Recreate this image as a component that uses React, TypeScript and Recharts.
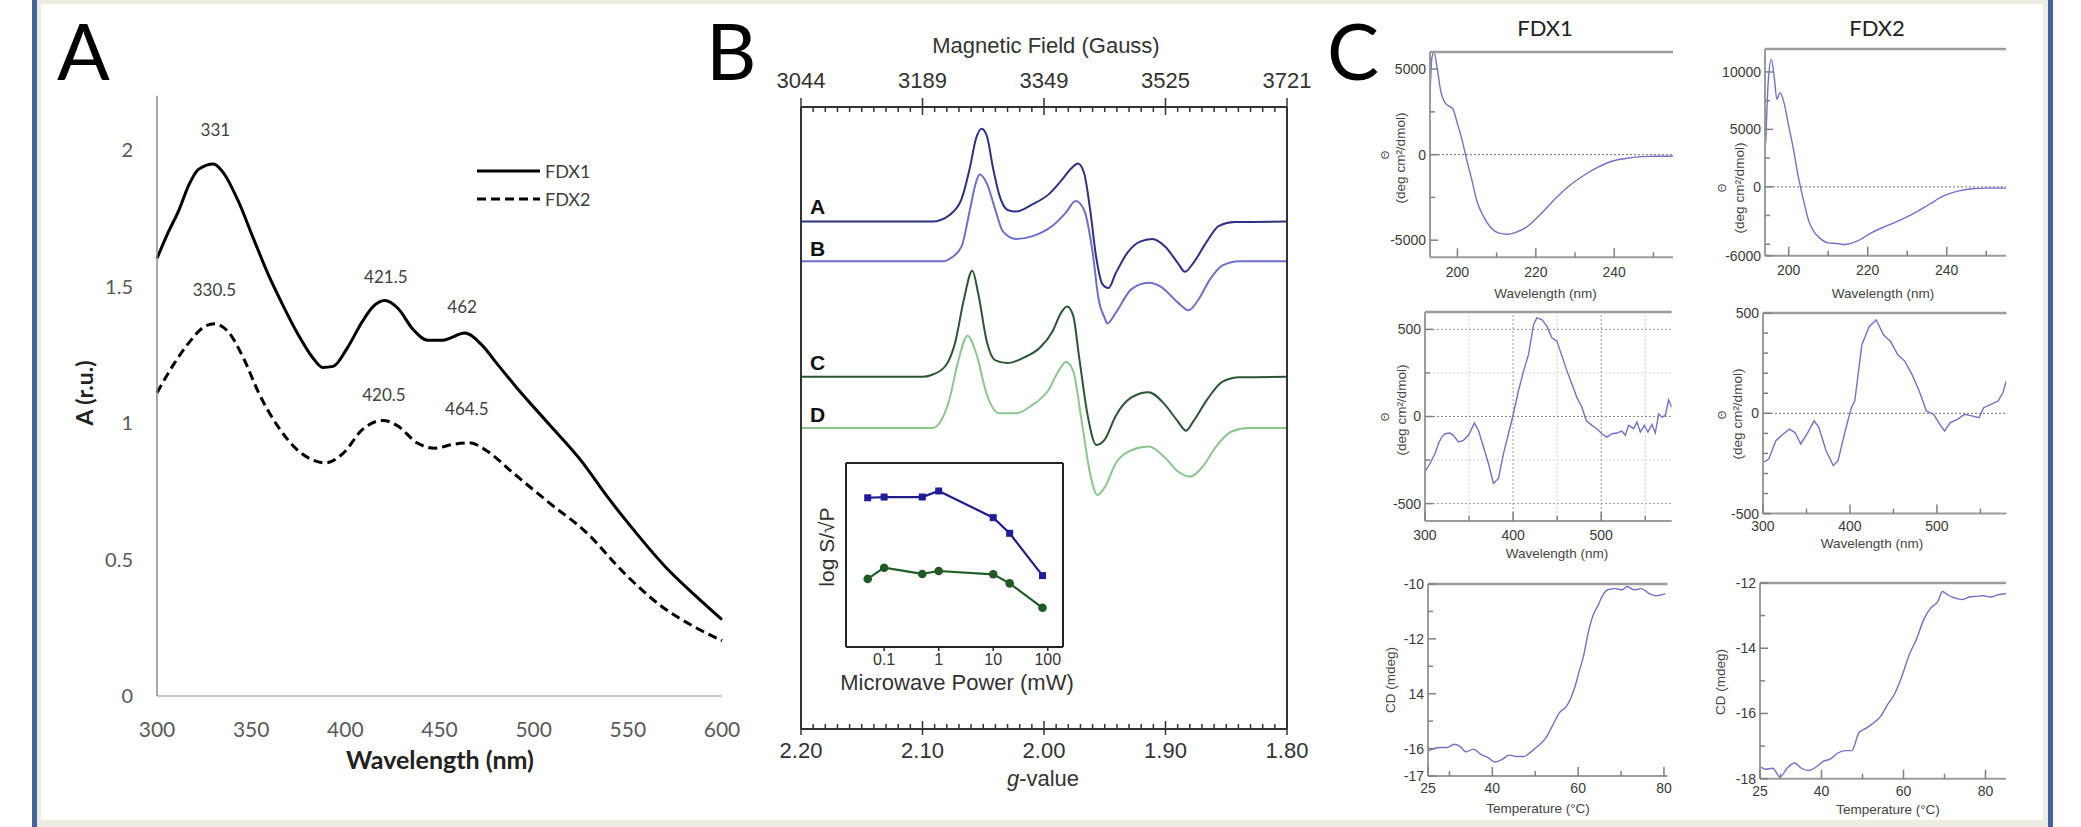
import React from "react";
import { LineChart, Line, XAxis, YAxis, ReferenceLine, ReferenceDot, Legend } from "recharts";

// ---------- Panel A: UV-vis absorbance ----------
const absWl1 = [300, 306, 311.6, 317, 322, 330, 335, 343, 351, 359, 367, 375, 383, 388, 393.5, 401, 409, 414.6, 421, 428, 436, 443.6, 451.6, 463.5, 472.7, 480.6, 491, 507, 525.5, 538.7, 552, 570, 586, 600];
const absFdx1 = [1.604, 1.7, 1.78, 1.874, 1.93, 1.95, 1.92, 1.816, 1.68, 1.546, 1.43, 1.324, 1.237, 1.204, 1.208, 1.275, 1.372, 1.426, 1.449, 1.42, 1.343, 1.304, 1.304, 1.33, 1.285, 1.217, 1.13, 1.005, 0.86, 0.734, 0.618, 0.473, 0.367, 0.28];
const absWl2 = [300, 309, 317, 325, 330.6, 338, 346, 354, 364.4, 375, 383, 389.5, 398.8, 409, 420, 428, 438, 447.6, 456.8, 466, 475, 488.5, 507, 528, 549, 567.8, 586, 600];
const absFdx2 = [1.111, 1.217, 1.295, 1.353, 1.364, 1.333, 1.237, 1.111, 0.986, 0.899, 0.864, 0.854, 0.889, 0.976, 1.01, 0.989, 0.928, 0.908, 0.922, 0.928, 0.899, 0.821, 0.715, 0.599, 0.444, 0.329, 0.251, 0.203];
const absXTicks = [300, 350, 400, 450, 500, 550, 600];
const absYTicks = [0, 0.5, 1, 1.5, 2];
const peakText = ["331", "330.5", "421.5", "462", "420.5", "464.5"];
const peakX = [331, 330.5, 421.5, 462, 420.5, 464.5];
const peakY = [2.074, 1.488, 1.536, 1.426, 1.105, 1.052];
const legendNames = ["FDX1", "FDX2"];
const legendDash = [undefined, "9 5"];

// ---------- Panel B: EPR ----------
const eprGA = [2.2, 2.092, 2.085, 2.078, 2.068, 2.061, 2.056, 2.0513, 2.047, 2.042, 2.037, 2.03, 2.023, 2.01, 1.996, 1.986, 1.977, 1.972, 1.967, 1.962, 1.957, 1.952, 1.947, 1.941, 1.931, 1.921, 1.911, 1.9, 1.89, 1.884, 1.877, 1.866, 1.856, 1.843, 1.8];
const eprA = [96.1, 96.1, 96.4, 97.3, 100.3, 106.3, 111.8, 113.7, 112.3, 106.3, 101.3, 98.3, 98.0, 99.3, 101.3, 103.8, 106.3, 107.1, 105.3, 98.3, 89.3, 84.3, 83.5, 86.3, 90.3, 92.3, 92.8, 91.3, 88.3, 86.6, 88.3, 92.3, 95.3, 96.0, 96.1];
const eprGB = [2.2, 2.082, 2.076, 2.068, 2.061, 2.056, 2.053, 2.047, 2.04, 2.034, 2.023, 2.01, 1.993, 1.982, 1.974, 1.967, 1.96, 1.955, 1.95, 1.948, 1.941, 1.928, 1.914, 1.904, 1.89, 1.881, 1.873, 1.863, 1.853, 1.839, 1.8];
const eprB = [88.6, 88.6, 89.3, 91.3, 98.3, 103.5, 105.0, 103.3, 98.3, 94.3, 92.8, 93.3, 95.3, 97.8, 100.0, 98.3, 90.3, 81.3, 77.8, 76.8, 78.8, 83.3, 84.5, 83.8, 80.8, 79.3, 81.3, 85.3, 87.8, 88.6, 88.6];
const eprGC = [2.2, 2.1, 2.092, 2.081, 2.073, 2.066, 2.059, 2.054, 2.047, 2.04, 2.03, 2.017, 2.003, 1.993, 1.986, 1.981, 1.976, 1.971, 1.964, 1.957, 1.95, 1.941, 1.928, 1.914, 1.9, 1.89, 1.883, 1.877, 1.866, 1.853, 1.839, 1.8];
const eprC = [66.7, 66.7, 67.1, 68.8, 73.3, 81.3, 86.8, 82.3, 73.3, 69.8, 69.3, 70.3, 72.3, 75.3, 78.8, 80.0, 78.3, 70.3, 59.3, 53.8, 54.8, 59.3, 62.8, 63.8, 61.3, 58.3, 56.5, 58.3, 62.3, 65.8, 66.6, 66.7];
const eprGD = [2.2, 2.092, 2.085, 2.078, 2.071, 2.063, 2.056, 2.047, 2.037, 2.023, 2.01, 1.996, 1.988, 1.982, 1.976, 1.969, 1.962, 1.956, 1.95, 1.941, 1.928, 1.914, 1.9, 1.89, 1.88, 1.869, 1.859, 1.846, 1.832, 1.8];
const eprD = [57.0, 57.0, 58.3, 62.3, 69.3, 74.5, 71.3, 63.3, 59.8, 59.8, 61.3, 64.3, 67.8, 69.5, 67.8, 58.3, 48.3, 44.3, 45.8, 50.3, 52.8, 53.5, 51.3, 48.8, 47.8, 49.8, 53.3, 56.3, 57.0, 57.0];
const gMajor = [2.2, 2.1, 2.0, 1.9, 1.8];
const gLabels = ["2.20", "2.10", "2.00", "1.90", "1.80"];
const fieldLabels = ["3044", "3189", "3349", "3525", "3721"];
const gTicks = Array.from({ length: 41 }, (_, i) => +(2.2 - i * 0.01).toFixed(2));

// inset: power saturation
const powerMw = [0.05, 0.1, 0.5, 1, 10, 20, 80];
const satFdx1 = [8.11, 8.15, 8.15, 8.48, 7.03, 6.18, 3.88];
const satFdx2 = [3.7, 4.31, 3.97, 4.13, 3.95, 3.46, 2.13];
const powerTicks = [0.1, 1, 10, 100];
const powerLabels = ["0.1", "1", "10", "100"];

// ---------- Panel C: CD ----------
const cdFarWl1 = [193, 193.5, 194, 194.8, 195.7, 197, 198.8, 200, 201.2, 202.4, 203.7, 204.9, 206.7, 208.5, 210.4, 212.8, 215.2, 217.7, 220.1, 222.6, 225, 228.7, 232.3, 236, 239.6, 243.3, 247, 250.6, 255];
const cdFar1 = [3456, 5690, 5990, 5117, 3755, 2977, 2685, 1809, 837, -331, -1498, -2665, -3638, -4261, -4572, -4650, -4514, -4222, -3735, -3152, -2568, -1790, -1206, -720, -370, -214, -117, -97, -97];
const cdFarWl2 = [194.2, 194.8, 195.6, 196.4, 197, 197.8, 198.8, 200, 201.2, 202.4, 203.9, 205.1, 206.3, 208.1, 210, 212.4, 214.2, 217.3, 220.9, 224.6, 228.2, 231.9, 235.5, 239.1, 242.8, 246.4, 250.1, 255];
const cdFar2 = [3837, 9070, 11105, 9360, 7616, 8198, 7326, 5291, 3256, 930, -1395, -2994, -3866, -4535, -4884, -4942, -5029, -4738, -4012, -3430, -2907, -2267, -1541, -814, -378, -174, -116, -116];
const cdVisWl1 = [300, 305.7, 311.4, 315.2, 319, 322.8, 328.4, 332.2, 337.9, 343.6, 349.3, 356.1, 360.7, 366.4, 372, 377.7, 383.4, 389.1, 394.7, 399.6, 406.1, 411.8, 417.5, 423.2, 427, 432.6, 438.3, 444, 449.7, 455.4, 461.1, 466.7, 472.4, 478.1, 483, 489.5, 495.1, 500.8, 506.5, 512.2, 517.8, 523.5, 527.3, 531.1, 536.8, 540.6, 544.4, 549, 553.1, 557.6, 561.4, 565.2, 569, 572.8, 576.5, 580];
const cdVis1 = [-317, -270, -213, -156, -118, -99, -95, -108, -146, -137, -108, -38, -80, -175, -270, -384, -356, -213, -99, 0, 148, 259, 357, 527, 567, 557, 519, 452, 433, 348, 262, 186, 110, 53, -23, -51, -70, -99, -118, -99, -95, -84, -108, -51, -70, -32, -89, -51, -89, -46, -95, 15, -4, 6, 95, 53];
const cdVisWl2 = [300, 306.6, 314.8, 323, 330.2, 336.8, 343.4, 350.5, 358.8, 364.3, 372.5, 380.8, 386.3, 394.5, 401.6, 405.5, 413.7, 422, 430.2, 438.5, 446.7, 455, 463.2, 471.4, 479.7, 487.9, 496.2, 504.4, 508.8, 515.4, 523.6, 531.9, 540.1, 548.4, 553.8, 562.1, 570.3, 575.8, 579.7];
const cdVis2 = [-245, -228, -137, -104, -79, -96, -153, -104, -38, -71, -187, -261, -236, -88, 28, 61, 342, 432, 465, 391, 358, 292, 259, 193, 110, 11, -5, -63, -88, -46, -30, -5, -13, -22, 28, 45, 61, 102, 160];
const meltT1 = [25, 26.1, 27.8, 29.5, 31.1, 32.3, 33.9, 35.6, 37.3, 39, 40.6, 42.3, 44, 45.7, 47.3, 49, 50.7, 52.4, 54, 55.7, 57.4, 59.1, 60.2, 61.3, 62.4, 63.5, 64.7, 65.8, 66.9, 68.6, 70.3, 71.4, 73, 74.7, 76.4, 78.1, 80.3];
const melt1 = [-16.08, -16.02, -15.96, -15.96, -15.84, -15.9, -16.12, -16.02, -16.21, -16.33, -16.49, -16.39, -16.24, -16.29, -16.29, -16.12, -15.9, -15.63, -15.17, -14.68, -14.43, -13.82, -13.21, -12.59, -11.74, -11.13, -10.76, -10.39, -10.21, -10.17, -10.21, -10.09, -10.21, -10.17, -10.33, -10.43, -10.35];
const meltT2 = [25, 26.4, 28.1, 29.9, 31.6, 33.4, 35.1, 36.9, 38.6, 40.4, 42.1, 43.9, 45.6, 47.4, 49.1, 50.9, 52.6, 54.4, 56.1, 57.9, 59.6, 61.4, 63.1, 64.9, 66.6, 68.4, 69.5, 70.7, 72.5, 74.2, 76, 77.7, 79.5, 81.2, 83, 85];
const melt2 = [-17.63, -17.71, -17.68, -17.95, -17.68, -17.52, -17.68, -17.75, -17.65, -17.47, -17.4, -17.22, -17.14, -17.14, -16.6, -16.45, -16.3, -16.09, -15.73, -15.38, -14.86, -14.2, -13.74, -13.13, -12.77, -12.56, -12.26, -12.36, -12.46, -12.51, -12.43, -12.41, -12.39, -12.43, -12.36, -12.33];

const farXTicks = [200, 210, 220, 230, 240, 250];
const farXLabels = ["200", "", "220", "", "240", ""];
const visXTicks = [300, 350, 400, 450, 500, 550];
const visXLabels = ["300", "", "400", "", "500", ""];
const melt1XTicks = [25, 30, 40, 50, 60, 70, 80];
const melt2XTicks = [25, 30, 40, 50, 60, 70, 80];
const meltXLabels = ["25", "", "40", "", "60", "", "80"];
const c1YTicks = [-5000, -2500, 0, 2500, 5000];
const c1YLabels = ["-5000", "", "0", "", "5000"];
const c2YTicks = [-6000, -5000, -2500, 0, 2500, 5000, 7500, 10000];
const c2YLabels = ["-6000", "", "", "0", "", "5000", "", "10000"];
const c3YTicks = [-500, -250, 0, 250, 500];
const c3YLabels = ["-500", "", "0", "", "500"];
const c4YTicks = [-500, -400, -300, -200, -100, 0, 100, 200, 300, 400, 500];
const c4YLabels = ["-500", "", "", "", "", "0", "", "", "", "", "500"];
const c5YTicks = [-17, -16, -15, -14, -13, -12, -11, -10];
const c5YLabels = ["-17", "-16", "", "14", "", "-12", "", "-10"];
const c6YTicks = [-18, -17, -16, -15, -14, -13, -12];
const c6YLabels = ["-18", "", "-16", "", "-14", "", "-12"];

const zip = (xs: number[], ys: number[]) => xs.map((x, i) => ({ x, y: ys[i] }));

const LATO = "Lato, 'Open Sans', sans-serif";
const ARIAL = "'Liberation Sans', Arial, sans-serif";
const CD_COLOR = "#7171c6";
const AX = "#9c9c9c";

// ---------- Panel A ----------
function PanelA() {
  return (
    <div style={{ position: "absolute", left: 0, top: 40 }}>
      <LineChart width={770} height={780} margin={{ top: 55.7, right: 48, bottom: 64, left: 0 }}>
        <XAxis
          type="number"
          dataKey="x"
          domain={[300, 600]}
          ticks={absXTicks}
          interval={0}
          height={60}
          axisLine={{ stroke: "#b5b5b5", strokeWidth: 1.5 }}
          tickLine={false}
          tickMargin={20}
          tick={{ fill: "#595959", fontSize: 21, fontFamily: LATO }}
        />
        <YAxis
          type="number"
          domain={[0, 2.2]}
          ticks={absYTicks}
          interval={0}
          width={157}
          allowDataOverflow
          axisLine={{ stroke: "#8a8a8a", strokeWidth: 1.5 }}
          tickLine={false}
          tickMargin={18}
          tick={{ fill: "#595959", fontSize: 20, fontFamily: LATO }}
        />
        <Line data={zip(absWl1, absFdx1)} dataKey="y" name="FDX1" type="monotone" stroke="#000" strokeWidth={3} dot={false} isAnimationActive={false} />
        <Line data={zip(absWl2, absFdx2)} dataKey="y" name="FDX2" type="monotone" stroke="#000" strokeWidth={3} strokeDasharray="9 5" dot={false} isAnimationActive={false} />
        {peakText.map((t, i) => (
          <ReferenceDot
            key={t}
            x={peakX[i]}
            y={peakY[i]}
            r={0}
            fill="none"
            stroke="none"
            label={{ value: t, position: "center", fill: "#404040", fontSize: 17, fontFamily: LATO }}
          />
        ))}
        <Legend
          layout="vertical"
          align="center"
          verticalAlign="middle"
          wrapperStyle={{ left: 477, top: 115, width: 150, height: 60 }}
          content={() => (
            <svg width={150} height={60}>
              {legendNames.map((n, i) => (
                <g key={n}>
                  <line x1={0} x2={63} y1={16 + 28 * i} y2={16 + 28 * i} stroke="#000" strokeWidth={3} strokeDasharray={legendDash[i]} />
                  <text x={68} y={16 + 28 * i} dominantBaseline="central" fontSize={18} fill="#404040" fontFamily={LATO}>
                    {n}
                  </text>
                </g>
              ))}
            </svg>
          )}
        />
      </LineChart>
    </div>
  );
}

// ---------- Panel B ----------
const isMajorG = (v: number) => Math.abs(v * 10 - Math.round(v * 10)) < 1e-6;
const majorIndex = (v: number) => gMajor.findIndex((m) => Math.abs(m - v) < 1e-6);

function GBottomTick(props: any) {
  const { x, y, payload } = props;
  const major = isMajorG(payload.value);
  return (
    <g>
      <line x1={x} x2={x} y1={major ? y - 8 : y - 5} y2={major ? y + 6 : y} stroke="#333" strokeWidth={1.5} />
      {major && (
        <text x={x} y={y + 21} textAnchor="middle" dominantBaseline="central" fontSize={22} fill="#333" fontFamily={ARIAL}>
          {gLabels[majorIndex(payload.value)]}
        </text>
      )}
    </g>
  );
}

function GTopTick(props: any) {
  const { x, y, payload } = props;
  const major = isMajorG(payload.value);
  return (
    <g>
      <line x1={x} x2={x} y1={major ? y - 9 : y} y2={major ? y + 8 : y + 5} stroke="#333" strokeWidth={1.5} />
      {major && (
        <text x={x} y={y - 27} textAnchor="middle" dominantBaseline="central" fontSize={22} fill="#333" fontFamily={ARIAL}>
          {fieldLabels[majorIndex(payload.value)]}
        </text>
      )}
    </g>
  );
}

const eprSeries = [
  { id: "A", g: eprGA, v: eprA, color: "#2d3183" },
  { id: "B", g: eprGB, v: eprB, color: "#6d70c4" },
  { id: "C", g: eprGC, v: eprC, color: "#2b5632" },
  { id: "D", g: eprGD, v: eprD, color: "#8cc590" },
];

// axes get 1px of size: zero-sized axes are not drawn
function PanelB() {
  return (
    <div style={{ position: "absolute", left: 760, top: 20 }}>
      <LineChart width={570} height={790} margin={{ top: 86, right: 42, bottom: 80, left: 40 }}>
        <XAxis
          xAxisId="g"
          type="number"
          dataKey="x"
          domain={[1.8, 2.2]}
          reversed
          ticks={gTicks}
          interval={0}
          height={1}
          tickSize={0}
          tickMargin={0}
          allowDataOverflow
          axisLine={{ stroke: "#333", strokeWidth: 2 }}
          tickLine={false}
          tick={(p: any) => <GBottomTick {...p} />}
        />
        <XAxis
          xAxisId="f"
          orientation="top"
          type="number"
          dataKey="x"
          domain={[1.8, 2.2]}
          reversed
          ticks={gTicks}
          interval={0}
          height={1}
          tickSize={0}
          tickMargin={0}
          allowDataOverflow
          axisLine={{ stroke: "#333", strokeWidth: 2 }}
          tickLine={false}
          tick={(p: any) => <GTopTick {...p} />}
        />
        <YAxis yAxisId="l" type="number" domain={[0, 117.8]} width={1} tick={false} tickLine={false} allowDataOverflow axisLine={{ stroke: "#333", strokeWidth: 2 }} />
        <YAxis yAxisId="r" orientation="right" type="number" domain={[0, 117.8]} width={1} tick={false} tickLine={false} allowDataOverflow axisLine={{ stroke: "#333", strokeWidth: 2 }} />
        {eprSeries.map((s) => (
          <Line
            key={s.id}
            xAxisId="g"
            yAxisId="l"
            data={zip(s.g, s.v)}
            dataKey="y"
            type="monotone"
            stroke={s.color}
            strokeWidth={2}
            dot={false}
            isAnimationActive={false}
          />
        ))}
      </LineChart>
    </div>
  );
}

function InsetTick(props: any) {
  const { x, y, payload } = props;
  const i = powerTicks.indexOf(payload.value);
  return (
    <g>
      <line x1={x} x2={x} y1={y} y2={y + 4} stroke="#222" strokeWidth={1.5} />
      <text x={x} y={y + 12} textAnchor="middle" dominantBaseline="central" fontSize={16} fill="#333" fontFamily={ARIAL}>
        {powerLabels[i]}
      </text>
    </g>
  );
}

function Inset() {
  return (
    <div style={{ position: "absolute", left: 800, top: 440 }}>
      <LineChart width={290} height={250} margin={{ top: 22, right: 26, bottom: 42, left: 45 }}>
        <XAxis
          xAxisId="b"
          type="number"
          scale="log"
          dataKey="x"
          domain={[0.02, 190]}
          ticks={powerTicks}
          interval={0}
          height={1}
          tickSize={0}
          tickMargin={0}
          allowDataOverflow
          axisLine={{ stroke: "#222", strokeWidth: 2 }}
          tickLine={false}
          tick={(p: any) => <InsetTick {...p} />}
        />
        <XAxis xAxisId="t" orientation="top" type="number" scale="log" dataKey="x" domain={[0.02, 190]} height={1} tick={false} tickLine={false} allowDataOverflow axisLine={{ stroke: "#222", strokeWidth: 2 }} />
        <YAxis yAxisId="l" type="number" domain={[0, 10]} width={1} tick={false} tickLine={false} axisLine={{ stroke: "#222", strokeWidth: 2 }} />
        <YAxis yAxisId="r" orientation="right" type="number" domain={[0, 10]} width={1} tick={false} tickLine={false} axisLine={{ stroke: "#222", strokeWidth: 2 }} />
        <Line
          xAxisId="b"
          yAxisId="l"
          data={zip(powerMw, satFdx1)}
          dataKey="y"
          type="linear"
          stroke="#1d1d8c"
          strokeWidth={2.2}
          isAnimationActive={false}
          dot={(p: any) => <rect key={`s${p.index}`} x={p.cx - 3.5} y={p.cy - 3.5} width={7} height={7} fill="#1d1d9a" />}
        />
        <Line
          xAxisId="b"
          yAxisId="l"
          data={zip(powerMw, satFdx2)}
          dataKey="y"
          type="linear"
          stroke="#235b27"
          strokeWidth={2.2}
          isAnimationActive={false}
          dot={(p: any) => <circle key={`c${p.index}`} cx={p.cx} cy={p.cy} r={4.3} fill="#1f5a24" />}
        />
      </LineChart>
    </div>
  );
}

// ---------- Panel C small plots ----------
type SmallProps = {
  left: number;
  top: number;
  right: number;
  bottom: number;
  xDomain: [number, number];
  yDomain: [number, number];
  xTicks: number[];
  xLabels: string[];
  yTicks: number[];
  yLabels: string[];
  xLabelGap: number;
  xs: number[];
  ys: number[];
  curve: "monotone" | "linear";
  zeroLine?: boolean;
  grid?: boolean;
};

function SmallPlot(p: SmallProps) {
  const ml = 60, mr = 10, mt = 10, mb = 30;
  const w = p.right - p.left;
  const h = p.bottom - p.top;
  const xTick = (t: any) => {
    const i = p.xTicks.indexOf(t.payload.value);
    const lab = p.xLabels[i];
    const len = lab ? 9 : 5;
    return (
      <g>
        <line x1={t.x} x2={t.x} y1={t.y} y2={t.y - len} stroke="#808080" strokeWidth={1.5} />
        {lab && (
          <text x={t.x} y={t.y + p.xLabelGap} textAnchor="middle" dominantBaseline="central" fontSize={14} fill="#3a3a3a" fontFamily={ARIAL}>
            {lab}
          </text>
        )}
      </g>
    );
  };
  const yTick = (t: any) => {
    const i = p.yTicks.indexOf(t.payload.value);
    const lab = p.yLabels[i];
    const len = lab ? 8 : 5;
    return (
      <g>
        <line x1={t.x} x2={t.x + len} y1={t.y} y2={t.y} stroke="#808080" strokeWidth={1.5} />
        {lab && (
          <text x={t.x - 4} y={t.y} textAnchor="end" dominantBaseline="central" fontSize={14} fill="#3a3a3a" fontFamily={ARIAL}>
            {lab}
          </text>
        )}
      </g>
    );
  };
  return (
    <div style={{ position: "absolute", left: p.left - ml, top: p.top - mt }}>
      <LineChart width={w + ml + mr} height={h + mt + mb} margin={{ left: ml - 1, right: mr, top: mt - 1, bottom: mb - 1 }}>
        <XAxis
          xAxisId="b"
          type="number"
          dataKey="x"
          domain={p.xDomain}
          ticks={p.xTicks}
          interval={0}
          height={1}
          tickSize={0}
          tickMargin={0}
          allowDataOverflow
          axisLine={{ stroke: AX, strokeWidth: 2 }}
          tickLine={false}
          tick={xTick}
        />
        <XAxis xAxisId="t" orientation="top" type="number" dataKey="x" domain={p.xDomain} height={1} tick={false} tickLine={false} allowDataOverflow axisLine={{ stroke: AX, strokeWidth: 2.5 }} />
        <YAxis
          yAxisId="l"
          type="number"
          domain={p.yDomain}
          ticks={p.yTicks}
          interval={0}
          width={1}
          tickSize={0}
          tickMargin={0}
          allowDataOverflow
          axisLine={{ stroke: AX, strokeWidth: 2 }}
          tickLine={false}
          tick={yTick}
        />
        {p.grid &&
          [250, -250].map((v) => <ReferenceLine key={`h${v}`} xAxisId="b" yAxisId="l" y={v} stroke="#cfcfcf" strokeDasharray="2 2" />)}
        {p.grid &&
          [500, -500].map((v) => <ReferenceLine key={`H${v}`} xAxisId="b" yAxisId="l" y={v} stroke="#9a9a9a" strokeDasharray="2 2" />)}
        {p.grid &&
          [350, 450, 550].map((v) => <ReferenceLine key={`v${v}`} xAxisId="b" yAxisId="l" x={v} stroke="#cfcfcf" strokeDasharray="2 2" />)}
        {p.grid &&
          [400, 500].map((v) => <ReferenceLine key={`V${v}`} xAxisId="b" yAxisId="l" x={v} stroke="#9a9a9a" strokeDasharray="2 2" />)}
        {p.zeroLine && <ReferenceLine xAxisId="b" yAxisId="l" y={0} stroke="#8a8a8a" strokeDasharray="2 2" strokeWidth={1.2} />}
        <Line xAxisId="b" yAxisId="l" data={zip(p.xs, p.ys)} dataKey="y" type={p.curve} stroke={CD_COLOR} strokeWidth={1.4} dot={false} isAnimationActive={false} />
      </LineChart>
    </div>
  );
}

// ---------- Free text ----------
function Overlay() {
  const rot = (x: number, y: number) => `rotate(-90 ${x} ${y})`;
  const cdYLabel = (x0: number, y0: number, x1: number, y1: number) => (
    <g>
      <text x={x0} y={y0} transform={rot(x0, y0)} textAnchor="middle" dominantBaseline="central" fontSize={11} fill="#444" fontFamily={ARIAL}>Θ</text>
      <text x={x1} y={y1} transform={rot(x1, y1)} textAnchor="middle" dominantBaseline="central" fontSize={13.5} fill="#444" fontFamily={ARIAL}>(deg cm²/dmol)</text>
    </g>
  );
  const small = (x: number, y: number, t: string) => (
    <text x={x} y={y} textAnchor="middle" dominantBaseline="central" fontSize={13.5} fill="#444" fontFamily={ARIAL}>{t}</text>
  );
  return (
    <svg width={2081} height={827} style={{ position: "absolute", left: 0, top: 0, pointerEvents: "none" }}>
      <text x={57} y={80} fontSize={78} fontFamily={LATO} fill="#000">A</text>
      <text x={706} y={80} fontSize={78} fontFamily={LATO} fill="#000">B</text>
      <text x={1327} y={80} fontSize={78} fontFamily={LATO} fill="#000">C</text>

      <text x={84} y={393} transform={rot(84, 393)} textAnchor="middle" dominantBaseline="central" fontSize={23} fontWeight="bold" fontFamily={LATO} fill="#222">A (r.u.)</text>
      <text x={440} y={759} textAnchor="middle" dominantBaseline="central" fontSize={25} fontWeight="bold" fontFamily={LATO} fill="#222">Wavelength (nm)</text>

      <text x={1046} y={45} textAnchor="middle" dominantBaseline="central" fontSize={22} fontFamily={ARIAL} fill="#333">Magnetic Field (Gauss)</text>
      <text x={1043} y={778} textAnchor="middle" dominantBaseline="central" fontSize={22} fontFamily={ARIAL} fill="#333">
        <tspan fontStyle="italic">g</tspan>-value
      </text>
      {["A", "B", "C", "D"].map((t, i) => (
        <text key={t} x={810} y={[206, 248, 362, 414][i]} dominantBaseline="central" fontSize={21} fontWeight="bold" fontFamily={ARIAL} fill="#111">{t}</text>
      ))}
      <text x={826} y={547} transform={rot(826, 547)} textAnchor="middle" dominantBaseline="central" fontSize={21} fontFamily={ARIAL} fill="#333">log S/√P</text>
      <text x={957} y={682} textAnchor="middle" dominantBaseline="central" fontSize={22} fontFamily={ARIAL} fill="#333">Microwave Power (mW)</text>

      <text x={1545} y={27} textAnchor="middle" dominantBaseline="central" fontSize={22} fontFamily={LATO} fill="#222">FDX1</text>
      <text x={1877} y={27} textAnchor="middle" dominantBaseline="central" fontSize={22} fontFamily={LATO} fill="#222">FDX2</text>
      {small(1545.5, 293, "Wavelength (nm)")}
      {small(1883, 293, "Wavelength (nm)")}
      {small(1557, 553, "Wavelength (nm)")}
      {small(1872, 543, "Wavelength (nm)")}
      {small(1538, 808, "Temperature (°C)")}
      {small(1888, 809, "Temperature (°C)")}
      {cdYLabel(1385, 155, 1400, 158)}
      {cdYLabel(1722, 188, 1739.5, 188)}
      {cdYLabel(1385, 417, 1401.5, 410)}
      {cdYLabel(1722, 415, 1737, 414)}
      <text x={1390} y={680} transform={rot(1390, 680)} textAnchor="middle" dominantBaseline="central" fontSize={13.5} fill="#444" fontFamily={ARIAL}>CD (mdeg)</text>
      <text x={1720} y={682} transform={rot(1720, 682)} textAnchor="middle" dominantBaseline="central" fontSize={13.5} fill="#444" fontFamily={ARIAL}>CD (mdeg)</text>
    </svg>
  );
}

function Frame() {
  const beige = "#eeece1";
  const blue = "#42669a";
  const box = (l: number, t: number, w: number, h: number, c: string) => (
    <div style={{ position: "absolute", left: l, top: t, width: w, height: h, background: c }} />
  );
  return (
    <>
      {box(0, 0, 2081, 827, "#fff")}
      {box(37, 0, 2011, 3.5, beige)}
      {box(37, 820, 2011, 7, beige)}
      {box(37, 0, 4, 827, beige)}
      {box(2043, 0, 5, 827, beige)}
      {box(32, 0, 5, 827, blue)}
      {box(2048, 0, 5, 827, blue)}
    </>
  );
}

export default function App() {
  return (
    <div style={{ position: "absolute", left: 0, top: 0, width: 2081, height: 827, overflow: "hidden", fontFamily: ARIAL }}>
      <Frame />
      <PanelA />
      <PanelB />
      <Inset />
      <SmallPlot left={1430} top={51.7} right={1673} bottom={257} xDomain={[193, 255]} yDomain={[-6000, 6000]} xTicks={farXTicks} xLabels={farXLabels} yTicks={c1YTicks} yLabels={c1YLabels} xLabelGap={15} xs={cdFarWl1} ys={cdFar1} curve="monotone" zeroLine />
      <SmallPlot left={1765} top={49.3} right={2006} bottom={256} xDomain={[194, 255]} yDomain={[-6000, 12000]} xTicks={farXTicks} xLabels={farXLabels} yTicks={c2YTicks} yLabels={c2YLabels} xLabelGap={14} xs={cdFarWl2} ys={cdFar2} curve="monotone" zeroLine />
      <SmallPlot left={1425} top={311.5} right={1671.7} bottom={520.5} xDomain={[300, 580]} yDomain={[-600, 600]} xTicks={visXTicks} xLabels={visXLabels} yTicks={c3YTicks} yLabels={c3YLabels} xLabelGap={14.5} xs={cdVisWl1} ys={cdVis1} curve="linear" grid zeroLine />
      <SmallPlot left={1762.5} top={312.7} right={2006} bottom={513.3} xDomain={[300, 580]} yDomain={[-500, 500]} xTicks={visXTicks} xLabels={visXLabels} yTicks={c4YTicks} yLabels={c4YLabels} xLabelGap={12.7} xs={cdVisWl2} ys={cdVis2} curve="linear" zeroLine />
      <SmallPlot left={1428.2} top={584} right={1667.6} bottom={776} xDomain={[25, 80.8]} yDomain={[-17, -10]} xTicks={melt1XTicks} xLabels={meltXLabels} yTicks={c5YTicks} yLabels={c5YLabels} xLabelGap={12} xs={meltT1} ys={melt1} curve="monotone" />
      <SmallPlot left={1760} top={583.3} right={2006} bottom={779} xDomain={[25, 85]} yDomain={[-18, -12]} xTicks={melt2XTicks} xLabels={meltXLabels} yTicks={c6YTicks} yLabels={c6YLabels} xLabelGap={12.7} xs={meltT2} ys={melt2} curve="monotone" />
      <Overlay />
    </div>
  );
}
